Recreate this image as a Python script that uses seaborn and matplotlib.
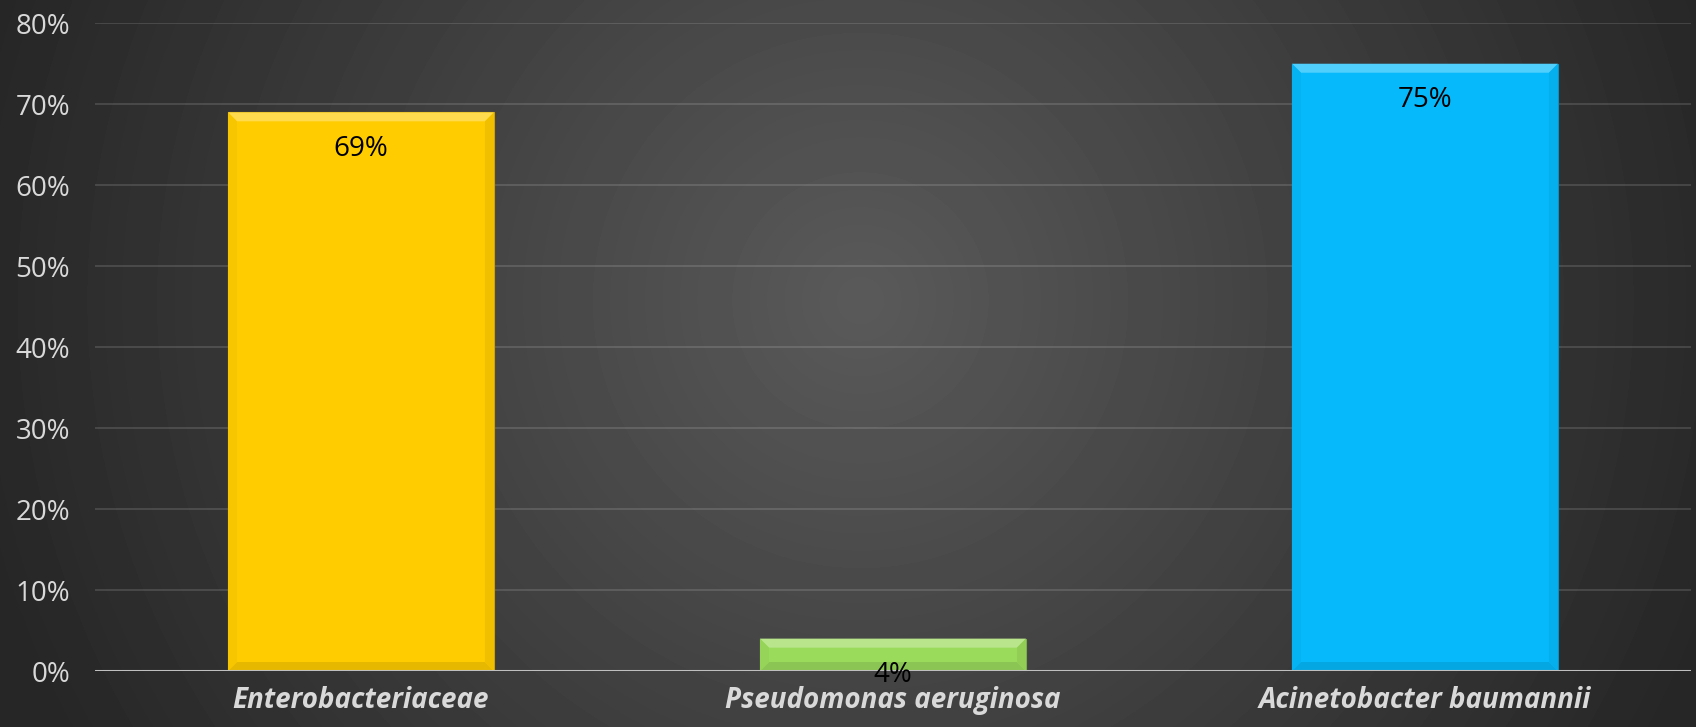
"""
Odsetek szczepów opornych - wykres słupkowy (ciemne tło, styl Excela)
"""

import numpy as np
import pandas as pd
import matplotlib
matplotlib.use('Agg')
import matplotlib.pyplot as plt
from matplotlib.patches import Polygon
from matplotlib.ticker import PercentFormatter
import seaborn as sns

# Dane
categories = ['Enterobacteriaceae', 'Pseudomonas aeruginosa', 'Acinetobacter baumannii']
values = [69, 4, 75]
bar_colors = ['#FFCC00', '#9BDB5C', '#05B9FB']
y_ticks = [0, 10, 20, 30, 40, 50, 60, 70, 80]

sns.set_theme(style='dark')
plt.rcParams['font.family'] = ['Open Sans', 'DejaVu Sans']

W, H, DPI = 1696, 727, 100
fig = plt.figure(figsize=(W / DPI, H / DPI), dpi=DPI)

# Tło - gradient radialny
bg = fig.add_axes([0, 0, 1, 1], zorder=-10)
xx, yy = np.meshgrid(np.arange(W), np.arange(H))
r = np.sqrt((xx - 860) ** 2 + (yy - 300) ** 2) / 910.0
r = np.clip(r, 0, 1)
shade = (0x5a - r * (0x5a - 0x26)) / 255.0
bg.imshow(shade, cmap='gray', vmin=0, vmax=1, aspect='auto', interpolation='bilinear')
bg.axis('off')

ax = fig.add_axes([0.056, 0.077, 0.941, 0.891])
ax.set_facecolor('none')

df = pd.DataFrame({'kategoria': categories, 'procent': values})
sns.barplot(data=df, x='kategoria', y='procent', hue='kategoria',
            palette=bar_colors, width=0.5, saturation=1, legend=False, ax=ax,
            edgecolor='none', linewidth=0, zorder=3)

ax.set_xlim(-0.5, 2.5)
ax.set_ylim(0, 80)
ax.set_yticks(y_ticks)
ax.yaxis.set_major_formatter(PercentFormatter(decimals=0))
ax.grid(True, axis='y', color='white', alpha=0.13, linewidth=1.5, zorder=0)
ax.grid(False, axis='x')
ax.axhline(0, color='#bfbfbf', linewidth=2.2, zorder=4)
for s in ax.spines.values():
    s.set_visible(False)

ax.set_xlabel('')
ax.set_ylabel('')
ax.tick_params(axis='y', length=0, pad=18, labelsize=20, labelcolor='#d9d9d9')
ax.tick_params(axis='x', length=0, pad=11, labelsize=20, labelcolor='#d9d9d9')
for lbl in ax.get_xticklabels():
    lbl.set_fontstyle('italic')
    lbl.set_fontweight('bold')

# Efekt fazowania krawędzi słupków
pos = ax.get_position()
px_x = pos.width * W / 3.0      # piksele na jednostkę osi x
px_y = pos.height * H / 80.0    # piksele na jednostkę osi y
bev = 9
bx, by = bev / px_x, bev / px_y

def shade_color(c, f):
    rgb = np.array(matplotlib.colors.to_rgb(c))
    if f > 0:
        rgb = rgb + (1 - rgb) * f
    else:
        rgb = rgb * (1 + f)
    return tuple(np.clip(rgb, 0, 1))

for patch, col in zip(ax.patches, bar_colors):
    x0 = patch.get_x()
    x1 = x0 + patch.get_width()
    y0 = patch.get_y()
    y1 = y0 + patch.get_height()
    top = Polygon([(x0, y1), (x1, y1), (x1 - bx, y1 - by), (x0 + bx, y1 - by)],
                  closed=True, facecolor=shade_color(col, 0.3), edgecolor='none', zorder=3.5)
    bottom = Polygon([(x0, y0), (x1, y0), (x1 - bx, y0 + by), (x0 + bx, y0 + by)],
                     closed=True, facecolor=shade_color(col, -0.1), edgecolor='none', zorder=3.5)
    left = Polygon([(x0, y0), (x0, y1), (x0 + bx, y1 - by), (x0 + bx, y0 + by)],
                   closed=True, facecolor=shade_color(col, -0.03), edgecolor='none', zorder=3.5)
    right = Polygon([(x1, y0), (x1, y1), (x1 - bx, y1 - by), (x1 - bx, y0 + by)],
                    closed=True, facecolor=shade_color(col, -0.06), edgecolor='none', zorder=3.5)
    for p in (top, bottom, left, right):
        ax.add_patch(p)
    patch.set_edgecolor(shade_color(col, -0.2))
    patch.set_linewidth(0.8)

# Etykiety wartości
for patch, v in zip(ax.patches[:len(values)], values):
    cx = patch.get_x() + patch.get_width() / 2
    ax.annotate(f'{v}%', xy=(cx, patch.get_height()), xytext=(0, -16),
                textcoords='offset points', ha='center', va='top',
                fontsize=20, color='black', zorder=6)

fig.savefig('out.png', dpi=DPI)
